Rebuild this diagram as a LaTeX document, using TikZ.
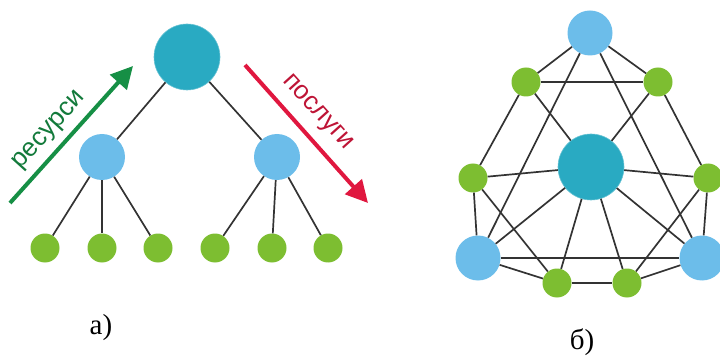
\documentclass[tikz,border=0pt]{standalone}
\usepackage{fontspec}
\setmainfont{Liberation Serif}
\newfontfamily\arialf{Liberation Sans}
\usetikzlibrary{arrows.meta}
\definecolor{hub}{HTML}{29AAC2}
\definecolor{midc}{HTML}{6CBDEA}
\definecolor{leafc}{HTML}{7DBE31}
\definecolor{edgec}{HTML}{333333}
\definecolor{resc}{HTML}{168F45}
\definecolor{servc}{HTML}{E0173F}
\begin{document}
\begin{tikzpicture}[x=1pt,y=-1pt,
  hubnode/.style={circle,fill=hub,draw=hub!70!white,line width=0.6pt,inner sep=0pt,minimum size=66pt},
  bignode/.style={circle,fill=midc,inner sep=0pt,minimum size=46pt},
  smallnode/.style={circle,fill=leafc,inner sep=0pt,minimum size=29pt},
  link/.style={draw=edgec,line width=1.7pt},
  flow/.style={line width=4pt,-{Triangle[length=22pt,width=22pt]}},
  flowtext/.style={font=\arialf\fontsize{26}{26}\selectfont,inner sep=1pt},
  caption/.style={font=\fontsize{29}{29}\selectfont}]
\useasboundingbox (0,0) rectangle (720,358);
% ---- diagram a ----
\node[hubnode] (top) at (187,57) {};
\node[bignode] (ml) at (102,157) {};
\node[bignode] (mr) at (277,157) {};
\foreach \i/\x in {1/45,2/102,3/158,4/215,5/272,6/328}
  \node[smallnode] (g\i) at (\x,248) {};
\foreach \a/\b in {top/ml,top/mr,ml/g1,ml/g2,ml/g3,mr/g4,mr/g5,mr/g6}
  \draw[link] (\a) -- (\b);
\coordinate (rs) at (10,203);
\coordinate (re) at (133,66);
\coordinate (ss) at (245,65);
\coordinate (se) at (368,203);
\draw[flow,resc] (rs) -- (re);
\draw[flow,servc] (ss) -- (se);
\node[flowtext,text=resc!85!black,rotate=48] (rt) at (50,131) {ресурси};
\node[flowtext,text=servc!85!black,rotate=-48] (st) at (317,113) {послуги};
\node[caption] (la) at (101,328) {а)};
% ---- diagram b ----
\node[bignode,minimum size=45pt] (T) at (590,33) {};
\node[smallnode] (TL) at (526,82) {};
\node[smallnode] (TR) at (658,82) {};
\node[hubnode] (C) at (591,167) {};
\node[smallnode] (L) at (473,178) {};
\node[smallnode] (R) at (708,178) {};
\node[bignode,minimum size=45pt] (BL) at (478,258) {};
\node[bignode,minimum size=45pt] (BR) at (702,258) {};
\node[smallnode] (B1) at (557,283) {};
\node[smallnode] (B2) at (627,283) {};
\foreach \a/\b in {T/TL,T/TR,TL/TR,T/BL,T/BR,TL/L,TR/R,TL/C,TR/C,L/C,R/C,L/BL,R/BR,L/B1,R/B2,BL/C,BR/C,BL/BR,BL/B1,B1/B2,B2/BR,B1/C,B2/C}
  \draw[link] (\a) -- (\b);
\node[caption] (lb) at (582,342) {б)};
\end{tikzpicture}
\end{document}
